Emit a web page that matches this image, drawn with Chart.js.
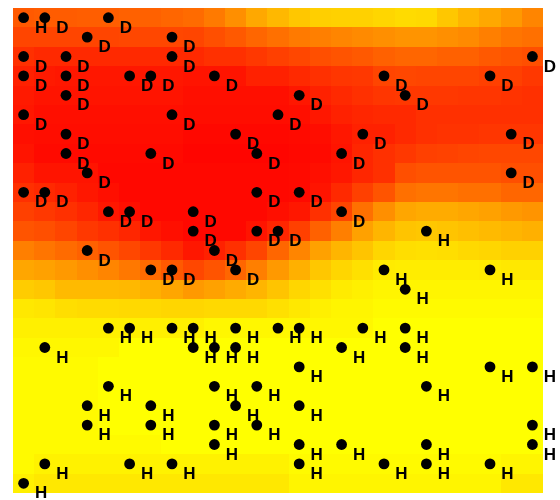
<!DOCTYPE html>
<html>
<head>
<meta charset="utf-8">
<script src="https://cdn.jsdelivr.net/npm/chart.js@4"></script>
<style>
  html, body { margin: 0; padding: 0; background: #fff; }
  #wrap { width: 560px; height: 500px; }
</style>
</head>
<body>
<div id="wrap"><canvas id="heatChart"></canvas></div>
<script>
// Labelled sample points on the 25 x 25 grid (column, row from top, class)
var pointCol = [0, 1, 4, 3, 7, 0, 2, 7, 24, 0, 2, 5, 6, 9, 17, 22, 2, 13, 18, 0, 7, 12,
    2, 10, 16, 23, 2, 6, 11, 15, 3, 23, 0, 1, 11, 13, 4, 5, 8, 15, 8, 11, 12, 19,
    3, 9, 6, 7, 10, 17, 22, 18,
    4, 5, 7, 8, 10, 12, 13, 16, 18, 1, 8, 9, 10, 15, 18, 13, 22, 24, 4, 9, 11, 19,
    3, 6, 10, 13, 3, 6, 9, 11, 24, 9, 13, 15, 19, 24, 1, 5, 7, 13, 17, 19, 22, 0];
var pointRow = [0, 0, 0, 1, 1, 2, 2, 2, 2, 3, 3, 3, 3, 3, 3, 3, 4, 4, 4, 5, 5, 5,
    6, 6, 6, 6, 7, 7, 7, 7, 8, 8, 9, 9, 9, 9, 10, 10, 10, 10, 11, 11, 11, 11,
    12, 12, 13, 13, 13, 13, 13, 14,
    16, 16, 16, 16, 16, 16, 16, 16, 16, 17, 17, 17, 17, 17, 17, 18, 18, 18, 19, 19, 19, 19,
    20, 20, 20, 20, 21, 21, 21, 21, 21, 22, 22, 22, 22, 22, 23, 23, 23, 23, 23, 23, 23, 24];
var pointClass = ['H', 'D', 'D', 'D', 'D', 'D', 'D', 'D', 'D', 'D', 'D', 'D', 'D', 'D', 'D', 'D', 'D', 'D', 'D', 'D', 'D', 'D',
    'D', 'D', 'D', 'D', 'D', 'D', 'D', 'D', 'D', 'D', 'D', 'D', 'D', 'D', 'D', 'D', 'D', 'D', 'D', 'D', 'D', 'H',
    'D', 'D', 'D', 'D', 'D', 'H', 'H', 'H',
    'H', 'H', 'H', 'H', 'H', 'H', 'H', 'H', 'H', 'H', 'H', 'H', 'H', 'H', 'H', 'H', 'H', 'H', 'H', 'H', 'H', 'H',
    'H', 'H', 'H', 'H', 'H', 'H', 'H', 'H', 'H', 'H', 'H', 'H', 'H', 'H', 'H', 'H', 'H', 'H', 'H', 'H', 'H', 'H'];

// Chance of H (%) for each grid cell, top row first
var probH = [
    [35, 36, 36, 37, 37, 38, 38, 40, 42, 48, 56, 66, 72, 78, 81, 82, 82, 84, 86, 85, 78, 71, 66, 60, 52],
    [27, 27, 27, 27, 27, 28, 28, 28, 27, 31, 35, 40, 44, 48, 50, 52, 54, 56, 58, 58, 56, 54, 50, 46, 44],
    [19, 16, 16, 16, 16, 16, 16, 16, 16, 19, 19, 22, 25, 28, 31, 33, 35, 38, 40, 40, 38, 38, 35, 33, 31],
    [13, 10, 9, 9, 9, 9, 9, 9, 8, 8, 8, 13, 13, 16, 19, 21, 22, 27, 28, 27, 27, 27, 25, 25, 22],
    [10, 8, 8, 8, 8, 8, 8, 8, 6, 6, 6, 6, 6, 9, 13, 16, 19, 21, 22, 22, 22, 21, 21, 20, 19],
    [9, 6, 6, 6, 6, 6, 6, 6, 5, 5, 5, 5, 5, 6, 9, 13, 15, 16, 16, 19, 19, 19, 19, 19, 19],
    [6, 5, 5, 5, 5, 5, 5, 5, 3, 3, 3, 3, 3, 4, 5, 9, 13, 13, 16, 19, 20, 20, 21, 21, 21],
    [8, 4, 4, 4, 4, 4, 4, 4, 2, 2, 2, 2, 2, 3, 4, 8, 15, 19, 22, 25, 26, 27, 28, 28, 28],
    [13, 8, 8, 8, 3, 3, 3, 3, 3, 3, 3, 3, 3, 4, 6, 9, 15, 19, 31, 33, 33, 33, 33, 31, 31],
    [19, 16, 13, 9, 6, 3, 3, 3, 3, 3, 3, 3, 3, 4, 8, 16, 25, 33, 44, 46, 46, 44, 44, 40, 40],
    [25, 22, 19, 15, 9, 6, 3, 3, 3, 3, 3, 3, 6, 9, 19, 27, 44, 56, 65, 67, 67, 65, 63, 60, 58],
    [33, 31, 27, 22, 19, 15, 9, 6, 3, 3, 3, 8, 15, 25, 38, 50, 63, 71, 77, 78, 77, 75, 73, 71, 69],
    [50, 46, 42, 38, 33, 28, 22, 16, 9, 13, 19, 27, 40, 52, 63, 71, 77, 84, 87, 88, 87, 85, 84, 82, 82],
    [65, 63, 60, 56, 52, 47, 42, 35, 28, 33, 40, 50, 60, 69, 78, 84, 88, 92, 93, 93, 93, 93, 92, 91, 91],
    [80, 78, 73, 73, 73, 72, 69, 65, 60, 63, 67, 71, 77, 84, 88, 92, 94, 96, 96, 96, 96, 96, 96, 96, 96],
    [91, 90, 87, 86, 86, 85, 85, 84, 84, 85, 85, 85, 88, 91, 94, 96, 96, 98, 98, 98, 98, 98, 98, 98, 98],
    [94, 94, 94, 94, 94, 94, 94, 94, 94, 97, 97, 97, 97, 97, 97, 97, 97, 100, 100, 100, 100, 100, 100, 100, 100],
    [97, 97, 97, 97, 97, 100, 100, 100, 100, 100, 100, 100, 100, 100, 100, 100, 100, 100, 100, 100, 100, 100, 100, 100, 100],
    [98, 98, 98, 98, 100, 100, 100, 100, 100, 100, 100, 100, 100, 100, 100, 100, 100, 100, 100, 100, 100, 100, 100, 100, 100],
    [98, 98, 98, 98, 100, 100, 100, 100, 100, 100, 100, 100, 100, 100, 100, 100, 100, 100, 100, 100, 100, 100, 100, 100, 100],
    [98, 98, 98, 98, 100, 100, 100, 100, 100, 100, 100, 100, 100, 100, 100, 100, 100, 100, 100, 100, 100, 100, 100, 100, 100],
    [98, 98, 98, 98, 100, 100, 100, 100, 100, 100, 100, 100, 100, 100, 100, 100, 100, 100, 100, 100, 100, 100, 100, 100, 100],
    [98, 98, 98, 98, 98, 98, 98, 100, 100, 100, 100, 100, 100, 100, 100, 100, 100, 100, 100, 100, 100, 100, 100, 100, 100],
    [98, 95, 95, 95, 95, 95, 95, 95, 95, 95, 95, 95, 95, 98, 98, 98, 98, 98, 98, 98, 98, 98, 98, 96, 96],
    [94, 91, 91, 91, 91, 91, 91, 91, 91, 91, 91, 91, 91, 96, 96, 96, 96, 96, 96, 96, 96, 96, 96, 91, 91]
];

// red -> yellow
function heatColor(p) {
    return 'rgb(255,' + Math.round(p * 2.55) + ',0)';
}

var heatGrid = {
    id: 'heatGrid',
    beforeDatasetsDraw: function(chart) {
        var ctx = chart.ctx;
        var xs = chart.scales.x, ys = chart.scales.y;
        ctx.save();
        probH.forEach(function(row, r) {
            row.forEach(function(p, c) {
                var x0 = Math.round(xs.getPixelForValue(c - 0.5));
                var x1 = Math.round(xs.getPixelForValue(c + 0.5));
                var y0 = Math.round(ys.getPixelForValue(r - 0.5));
                var y1 = Math.round(ys.getPixelForValue(r + 0.5));
                ctx.fillStyle = heatColor(p);
                ctx.fillRect(x0, y0, x1 - x0, y1 - y0);
            });
        });
        ctx.restore();
    }
};

var classLabels = {
    id: 'classLabels',
    afterDatasetsDraw: function(chart) {
        var ctx = chart.ctx;
        var meta = chart.getDatasetMeta(0);
        ctx.save();
        ctx.fillStyle = '#000';
        ctx.font = 'bold 17px "Liberation Sans", Arial, sans-serif';
        ctx.textAlign = 'center';
        ctx.textBaseline = 'alphabetic';
        meta.data.forEach(function(pt, i) {
            ctx.fillText(pointClass[i], pt.x + 17.5, pt.y + 15);
        });
        ctx.restore();
    }
};

var points = pointCol.map(function(c, i) {
    return { x: c, y: pointRow[i] };
});

new Chart(document.getElementById('heatChart'), {
    type: 'scatter',
    data: {
        datasets: [{
            data: points,
            backgroundColor: '#000',
            borderWidth: 0,
            pointRadius: 5.4,
            clip: false
        }]
    },
    options: {
        responsive: true,
        maintainAspectRatio: false,
        animation: false,
        layout: {
            padding: { left: 13, top: 8, right: 17, bottom: 7 }
        },
        plugins: {
            legend: { display: false },
            tooltip: { enabled: false }
        },
        scales: {
            x: { type: 'linear', min: -0.5, max: 24.5, display: false },
            y: { type: 'linear', min: -0.5, max: 24.5, reverse: true, display: false }
        }
    },
    plugins: [heatGrid, classLabels]
});
</script>
</body>
</html>
